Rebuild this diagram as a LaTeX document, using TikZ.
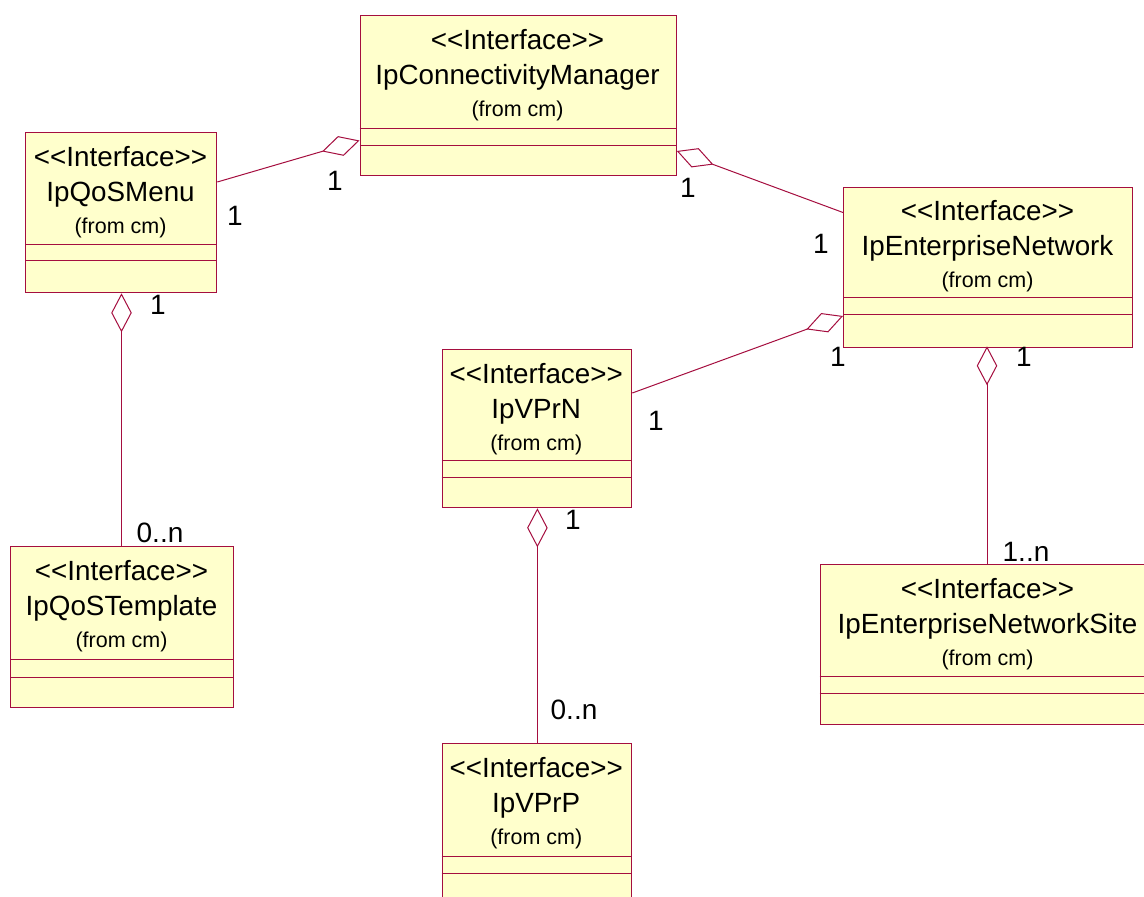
\documentclass[tikz,border=0pt]{standalone}
\usepackage{fontspec}
\setmainfont{Liberation Sans}
\usetikzlibrary{arrows.meta,calc}
\definecolor{umlline}{HTML}{A50E3F}
\definecolor{umlfill}{HTML}{FFFFCC}
\tikzset{
  umlbox/.style={draw=umlline,fill=umlfill,line width=1.3pt,rectangle,inner sep=0pt,anchor=north west},
  divider/.style={draw=umlline,line width=1pt},
  stereo/.style={font=\fontsize{27.8}{30}\selectfont,text=black,inner sep=0pt,anchor=base},
  title/.style={font=\fontsize{27.8}{30}\selectfont,text=black,inner sep=0pt,anchor=base},
  origin/.style={font=\fontsize{21.5}{24}\selectfont,text=black,inner sep=0pt,anchor=base},
  mult/.style={font=\fontsize{28}{30}\selectfont,text=black,inner sep=0pt},
  aggregate/.style={draw=umlline,line width=1pt,{Diamond[open,fill=white,length=39pt,width=20.5pt,line width=1pt]}-},
}
% name, left, top, width, height, first divider offset, second divider offset, title
\newcommand{\umlclass}[8]{%
  \node[umlbox,minimum width=#4pt,minimum height=#5pt] (#1) at (#2,#3) {};
  \node[stereo] (#1-s) at ($(#1.north west)+(#4/2,34)$) {<{}<Interface>{}>};
  \node[title] (#1-t) at ($(#1.north west)+(#4/2,69)$) {#8};
  \node[origin] (#1-f) at ($(#1.north west)+(#4/2,101)$) {(from cm)};
  \draw[divider] ($(#1.north west)+(0,#6)$) -- ($(#1.north east)+(0,#6)$);
  \draw[divider] ($(#1.north west)+(0,#7)$) -- ($(#1.north east)+(0,#7)$);
}
\begin{document}
\begin{tikzpicture}[x=1pt,y=-1pt]
\clip (0,0) rectangle (1144,897);
\fill[white] (0,0) rectangle (1144,897);
\umlclass{cm}{359.5}{15}{316}{160}{113}{130}{IpConnectivityManager}
\umlclass{menu}{25}{132}{191}{160}{112.5}{128.5}{IpQoSMenu}
\umlclass{en}{843}{186.5}{289}{160.5}{110.5}{127.5}{IpEnterpriseNetwork}
\umlclass{vprn}{441.5}{349}{189.5}{158}{111}{128}{IpVPrN}
\umlclass{tmpl}{10}{546}{223}{161}{113}{131}{IpQoSTemplate}
\umlclass{site}{819.5}{564}{336}{160}{112.5}{129.5}{IpEnterpriseNetworkSite}
\umlclass{vprp}{441.5}{743}{189.5}{180}{113.5}{130.5}{IpVPrP}

\draw[aggregate] ($(cm.north west)+(0,125.5)$) -- ($(menu.north east)+(0,50)$);
\draw[aggregate] ($(cm.north east)+(0,136)$) -- ($(en.north west)+(0,26)$);
\draw[aggregate] ($(en.north west)+(0,129.5)$) -- ($(vprn.north east)+(0,44)$);
\draw[aggregate] ($(en.south west)+(144,-2)$) -- ($(site.north west)+(167.5,0)$);
\draw[aggregate] ($(menu.south west)+(96.5,0)$) -- ($(tmpl.north west)+(111.5,0)$);
\draw[aggregate] ($(vprn.south)+(0.5,0)$) -- ($(vprp.north)+(0.5,0)$);

\node[mult] (m1) at (235,216) {1};
\node[mult] (m2) at (335,181) {1};
\node[mult] (m3) at (688,188) {1};
\node[mult] (m4) at (821,244) {1};
\node[mult] (m5) at (838,357) {1};
\node[mult] (m6) at (1024,357) {1};
\node[mult] (m7) at (656,421) {1};
\node[mult] (m8) at (158,305) {1};
\node[mult] (m9) at (573,520) {1};
\node[mult] (m10) at (160,533) {0..n};
\node[mult] (m11) at (574,710) {0..n};
\node[mult] (m12) at (1026,552) {1..n};
\end{tikzpicture}
\end{document}
